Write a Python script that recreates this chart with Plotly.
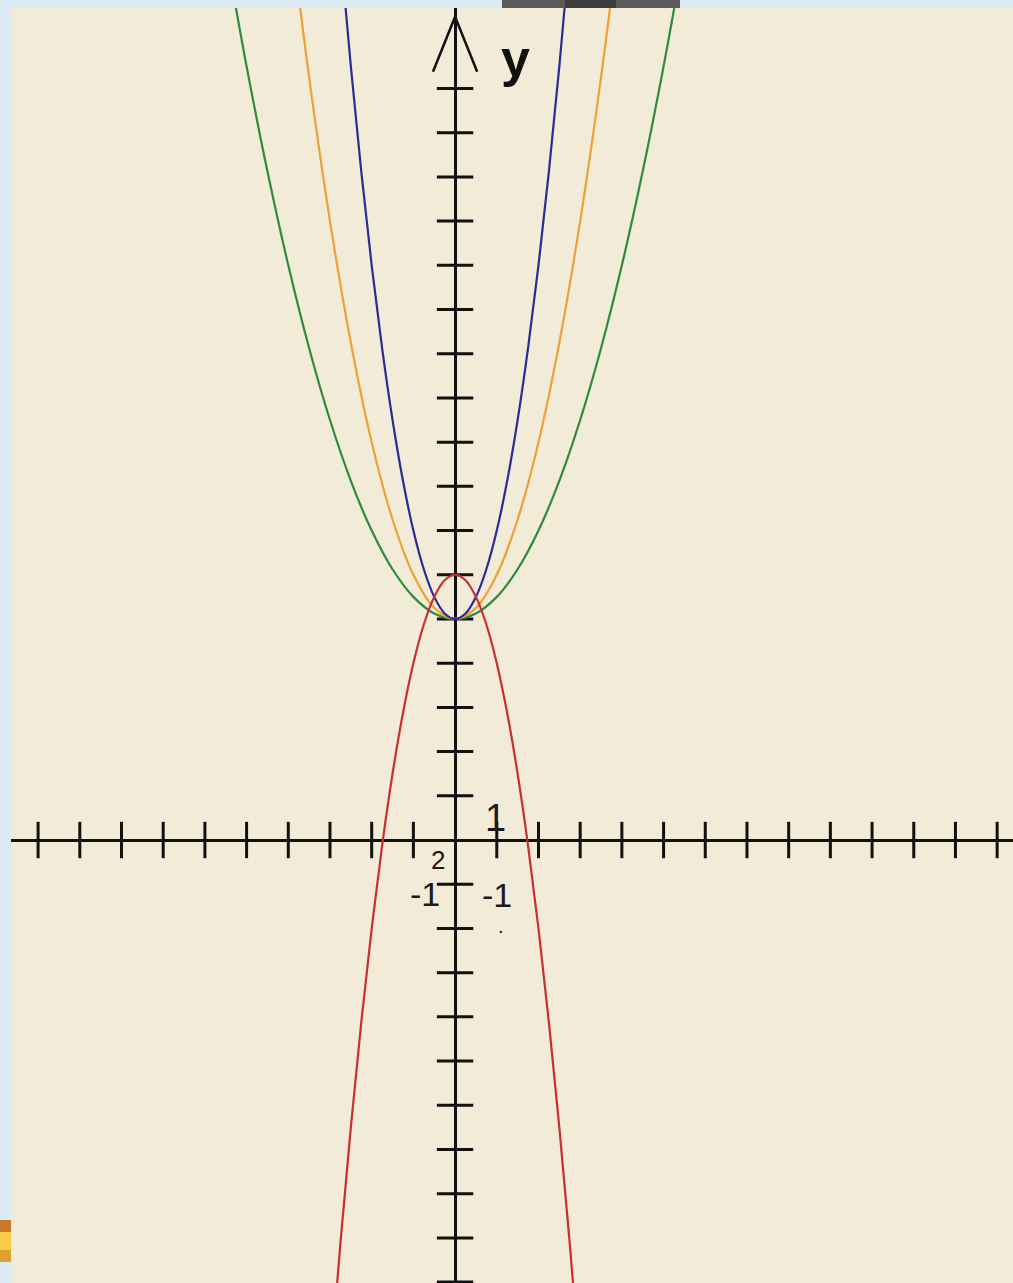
import plotly.graph_objects as go

# ---- data (axis units) ----
green_x = [-5.5, -5, -4.5, -4, -3.5, -3, -2.5, -2, -1.5, -1, -0.5, 0, 0.5, 1, 1.5, 2, 2.5, 3, 3.5, 4, 4.5, 5, 5.5]
green_y = [20.125, 17.5, 15.125, 13, 11.125, 9.5, 8.125, 7, 6.125, 5.5, 5.125, 5, 5.125, 5.5, 6.125, 7, 8.125, 9.5, 11.125, 13, 15.125, 17.5, 20.125]

orange_x = [-4, -3.5, -3, -2.5, -2, -1.5, -1, -0.5, 0, 0.5, 1, 1.5, 2, 2.5, 3, 3.5, 4]
orange_y = [21, 17.25, 14, 11.25, 9, 7.25, 6, 5.25, 5, 5.25, 6, 7.25, 9, 11.25, 14, 17.25, 21]

blue_x = [-3, -2.75, -2.5, -2.25, -2, -1.75, -1.5, -1.25, -1, -0.75, -0.5, -0.25, 0,
          0.25, 0.5, 0.75, 1, 1.25, 1.5, 1.75, 2, 2.25, 2.5, 2.75, 3]
blue_y = [23, 20.125, 17.5, 15.125, 13, 11.125, 9.5, 8.125, 7, 6.125, 5.5, 5.125, 5,
          5.125, 5.5, 6.125, 7, 8.125, 9.5, 11.125, 13, 15.125, 17.5, 20.125, 23]

red_x = [-3, -2.75, -2.5, -2.25, -2, -1.75, -1.5, -1.25, -1, -0.75, -0.5, -0.25, 0,
         0.25, 0.5, 0.75, 1, 1.25, 1.5, 1.75, 2, 2.25, 2.5, 2.75, 3]
red_y = [-12, -9.125, -6.5, -4.125, -2, -0.125, 1.5, 2.875, 4, 4.875, 5.5, 5.875, 6,
         5.875, 5.5, 4.875, 4, 2.875, 1.5, -0.125, -2, -4.125, -6.5, -9.125, -12]

x_ticks = [-10, -9, -8, -7, -6, -5, -4, -3, -2, -1, 1, 2, 3, 4, 5, 6, 7, 8, 9, 10, 11, 12, 13]
y_ticks = [-10, -9, -8, -7, -6, -5, -4, -3, -2, -1, 1, 2, 3, 4, 5, 6, 7, 8, 9, 10,
           11, 12, 13, 14, 15, 16, 17]

arrow_x = [-0.53, 0, 0.53]
arrow_y = [17.38, 18.62, 17.38]

X_RANGE = [-10.65, 13.38]
Y_RANGE = [-10.02, 18.82]

BEIGE = "#F2EBD8"
PAPER = "#DCEAF3"

fig = go.Figure()

# ticks on the axes
fig.add_trace(go.Scatter(
    x=x_ticks, y=[0] * len(x_ticks), mode="markers",
    marker=dict(symbol="line-ns", size=26, line=dict(width=3, color="#111111")),
    hoverinfo="skip", showlegend=False))
fig.add_trace(go.Scatter(
    x=[0] * len(y_ticks), y=y_ticks, mode="markers",
    marker=dict(symbol="line-ew", size=26, line=dict(width=3, color="#111111")),
    hoverinfo="skip", showlegend=False))

# arrow head on y axis
fig.add_trace(go.Scatter(
    x=arrow_x, y=arrow_y, mode="lines",
    line=dict(color="#111111", width=2.5), hoverinfo="skip", showlegend=False))

curves = [
    (green_x, green_y, "#2E8B3A"),
    (orange_x, orange_y, "#F0A032"),
    (blue_x, blue_y, "#2B2B96"),
    (red_x, red_y, "#C8302E"),
]
for cx, cy, col in curves:
    fig.add_trace(go.Scatter(
        x=cx, y=cy, mode="lines", line=dict(color=col, width=2.2, shape="spline"),
        hoverinfo="skip", showlegend=False))

# labels
FAM = "Liberation Sans, Arial, sans-serif"
ann_font = dict(family=FAM, size=34, color="#1a1a1a")
annotations = [
    dict(x=1.45, y=17.7, text="<b>y</b>", font=dict(family=FAM, size=52, color="#111111")),
    dict(x=0.97, y=0.5, text="1", font=dict(family=FAM, size=38, color="#1a1a1a")),
    dict(x=-0.42, y=-0.45, text="2", font=dict(family=FAM, size=26, color="#1a1a1a")),
    dict(x=-0.72, y=-1.22, text="-1", font=ann_font),
    dict(x=1.0, y=-1.25, text="-1", font=ann_font),
    dict(x=1.1, y=-1.95, text=".", font=dict(family=FAM, size=20, color="#1a1a1a")),
]
for a in annotations:
    a.update(xref="x", yref="y", showarrow=False, xanchor="center", yanchor="middle")

# decorations outside the plot area
shapes = [
    dict(type="rect", xref="paper", yref="paper", x0=(502 - 11) / 1002, x1=(680 - 11) / 1002,
         y0=1.0, y1=1.0 + 8 / 1275, fillcolor="#5a5a5a", line=dict(width=0), layer="above"),
    dict(type="rect", xref="paper", yref="paper", x0=(565 - 11) / 1002, x1=(616 - 11) / 1002,
         y0=1.0, y1=1.0 + 8 / 1275, fillcolor="#3c3c3c", line=dict(width=0), layer="above"),
    dict(type="rect", xref="paper", yref="paper", x0=-11 / 1002, x1=0,
         y0=(1283 - 1262) / 1275, y1=(1283 - 1250) / 1275, fillcolor="#E0A030", line=dict(width=0)),
    dict(type="rect", xref="paper", yref="paper", x0=-11 / 1002, x1=0,
         y0=(1283 - 1250) / 1275, y1=(1283 - 1232) / 1275, fillcolor="#F6CC48", line=dict(width=0)),
    dict(type="rect", xref="paper", yref="paper", x0=-11 / 1002, x1=0,
         y0=(1283 - 1232) / 1275, y1=(1283 - 1220) / 1275, fillcolor="#C87A2A", line=dict(width=0)),
]

axis_common = dict(showgrid=False, showticklabels=False, ticks="", showline=False,
                   zeroline=True, zerolinecolor="#111111", zerolinewidth=3, fixedrange=True)

fig.update_layout(
    width=1013, height=1283, autosize=False,
    margin=dict(l=11, r=0, t=8, b=0, pad=0),
    paper_bgcolor=PAPER, plot_bgcolor=BEIGE,
    xaxis=dict(range=X_RANGE, **axis_common),
    yaxis=dict(range=Y_RANGE, **axis_common),
    annotations=annotations, shapes=shapes,
    showlegend=False,
)

fig.write_html("out.html", config={"displayModeBar": False},
               post_script="document.body.style.margin='0';")
